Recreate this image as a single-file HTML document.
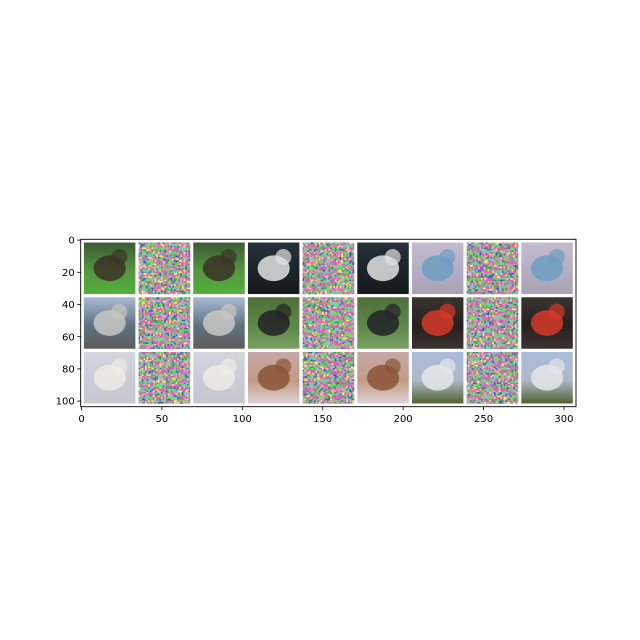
<!DOCTYPE html>
<html><head><meta charset="utf-8"><style>
html,body{margin:0;padding:0;background:#fff;}
svg{display:block;font-family:"DejaVu Sans","Liberation Sans",sans-serif;}
</style></head><body>
<svg id="chart" width="640" height="640" viewBox="0 0 640 640" xmlns="http://www.w3.org/2000/svg">
<rect width="640" height="640" fill="#fff"/>
<g id="tiles"></g>
<rect x="80.7" y="239.3" width="495.3" height="167.4" fill="none" stroke="#000" stroke-width="0.9"/>
<g id="xticks"></g>
<g id="yticks"></g>
</svg>
<script>
const xTicks = [0, 50, 100, 150, 200, 250, 300];
const yTicks = [0, 20, 40, 60, 80, 100];
const imgW = 308, imgH = 104;
const tileKinds = [
 ["deer","noise","deer","whorse","noise","whorse","truck","noise","truck"],
 ["ship","noise","ship","bhorse","noise","bhorse","car","noise","car"],
 ["plane","noise","plane","dog","noise","dog","plane2","noise","plane2"]
];
const bandColors = {
 deer:["#3b5a34","#56953e","#4fb23a"], whorse:["#25313a","#1c2429","#161a1c"],
 truck:["#c4bccc","#b4aec4","#a9a2b4"], ship:["#a9b9d2","#5f7282","#5e5c58"],
 bhorse:["#4f6f3a","#5d8848","#7aa060"], car:["#3a3530","#25201e","#3a3230"],
 plane:["#d6d6de","#cacad4","#c8c8d0"], dog:["#c7a8a8","#c39a85","#dcd0d4"],
 plane2:["#a9bcdc","#b0b8c8","#4f6231"]
};
const objColors = {
 deer:"#3b3328", whorse:"#e2e2e2", truck:"#6d9dc2", ship:"#c8c8c4", bhorse:"#222226",
 car:"#d6382a", plane:"#ecebe4", dog:"#8a5535", plane2:"#e4e6ea"
};
const noisePalette = ["#a0a0a0","#d050d0","#50f050","#f090d0","#5050d0","#909090","#b0b070","#e060a0","#70d0d0","#a880b0","#40b040","#c09898","#b0b0b0","#f0f060"];

const ox = 80.7, oy = 239.3, pw = 495.3, ph = 167.4;
const sx = pw / imgW, sy = ph / imgH;
function X(u){ return ox + u * sx; }
function Y(v){ return oy + v * sy; }
const NS = "http://www.w3.org/2000/svg";
function mk(tag, attrs, parent){ const e = document.createElementNS(NS, tag); for (const k in attrs) e.setAttribute(k, attrs[k]); parent.appendChild(e); return e; }

const tiles = document.getElementById("tiles");
tileKinds.forEach((row, r) => {
 row.forEach((kind, c) => {
  const u0 = 2 + c * 34, v0 = 2 + r * 34;
  const g = mk("g", {}, tiles);
  
  
  if (kind === "noise") {
   for (let i = 0; i < 32; i++) for (let j = 0; j < 32; j++) {
    const h = ((i * 73856093) ^ (j * 19349663) ^ ((r * 9 + c) * 83492791)) >>> 0;
    mk("rect", {x: X(u0 + j).toFixed(2), y: Y(v0 + i).toFixed(2), width: (sx + 0.2).toFixed(2), height: (sy + 0.2).toFixed(2), fill: noisePalette[(h >>> 3) % noisePalette.length]}, g);
   }
  } else {
   const b = bandColors[kind];
   const grad = "g" + r + "_" + c;
   const lg = mk("linearGradient", {id: grad, x1: 0, y1: 0, x2: 0, y2: 1}, g);
   mk("stop", {offset: "0", "stop-color": b[0]}, lg);
   mk("stop", {offset: "0.55", "stop-color": b[1]}, lg);
   mk("stop", {offset: "1", "stop-color": b[2]}, lg);
   mk("rect", {x: X(u0), y: Y(v0), width: 32 * sx, height: 32 * sy, fill: "url(#" + grad + ")"}, g);
   const oc = objColors[kind];
   mk("ellipse", {cx: X(u0 + 16), cy: Y(v0 + 16), rx: 10 * sx, ry: 8 * sy, fill: oc, opacity: 0.85}, g);
   mk("ellipse", {cx: X(u0 + 22), cy: Y(v0 + 9), rx: 5 * sx, ry: 5 * sy, fill: oc, opacity: 0.7}, g);
  }
 });
});

const xg = document.getElementById("xticks");
xTicks.forEach(t => {
 const x = X(t + 0.5);
 const l = mk("line", {x1: x, y1: oy + ph, x2: x, y2: oy + ph + 3.5, stroke: "#000", "stroke-width": 0.8}, xg);
 
 
 const tx = mk("text", {x: x, y: oy + ph + 15.5, "text-anchor": "middle", "font-size": 10, fill: "#000"}, xg);
 tx.textContent = t;
 
 
});
const yg = document.getElementById("yticks");
yTicks.forEach(t => {
 const y = Y(t + 0.5);
 const l = mk("line", {x1: ox, y1: y, x2: ox - 3.5, y2: y, stroke: "#000", "stroke-width": 0.8}, yg);
 
 
 const tx = mk("text", {x: ox - 6, y: y + 3.6, "text-anchor": "end", "font-size": 10, fill: "#000"}, yg);
 tx.textContent = t;
 
 
});
</script>
</body></html>
